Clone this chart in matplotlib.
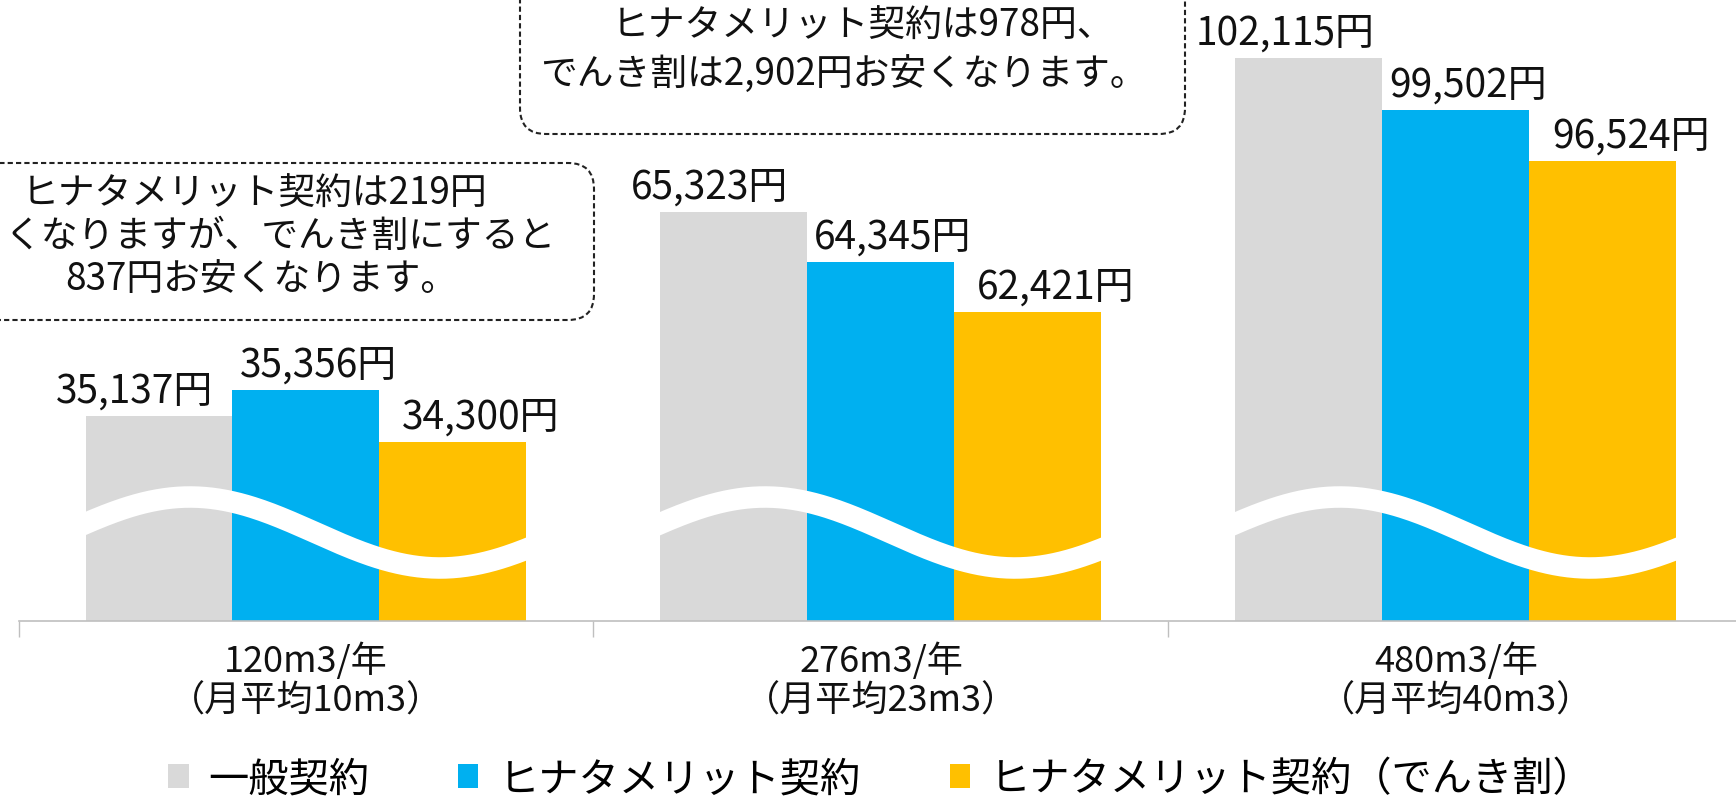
import numpy as np
import matplotlib
matplotlib.use("Agg")
import matplotlib.pyplot as plt
from matplotlib.patches import FancyBboxPatch, Patch

plt.rcParams['font.family'] = ['Noto Sans CJK JP', 'DejaVu Sans']

# categories and series
categories = ['120m3/年\n（月平均10m3）', '276m3/年\n（月平均23m3）', '480m3/年\n（月平均40m3）']
series_names = ['一般契約', 'ヒナタメリット契約', 'ヒナタメリット契約（でんき割）']
colors = ['#D9D9D9', '#00B0F0', '#FFC000']

# yearly cost (yen) shown on labels
general = [35137, 65323, 102115]
merit = [35356, 64345, 99502]
merit_denki = [34300, 62421, 96524]

# drawn bar heights (axis is broken, not proportional to yen)
general_h = [205, 409, 563]
merit_h = [231, 359, 511]
merit_denki_h = [179, 309, 460]

# callout texts
note_left = ['ヒナタメリット契約は219円', 'くなりますが、でんき割にすると', '837円お安くなります。']
note_mid = ['ヒナタメリット契約は978円、', 'でんき割は2,902円お安くなります。']

W, H = 1736, 804
fig = plt.figure(figsize=(W / 100, H / 100), dpi=100)

# main axes: baseline at y=622px, category width 575px
ax = fig.add_axes([18.5 / W, (H - 622) / H, 1725 / W, 622 / H])
ax.set_xlim(-0.5, 2.5)
ax.set_ylim(0, 622)

x = np.arange(len(categories))
bw = 147 / 575
values = [general, merit, merit_denki]
heights = [general_h, merit_h, merit_denki_h]
label_dx = [-24, 12, 28]  # px nudges of the value labels

for i in range(3):
    xs = x + (i - 1) * bw
    ax.bar(xs, heights[i], width=bw, color=colors[i], zorder=2)
    for xi, h, v in zip(xs, heights[i], values[i]):
        ax.annotate(f'{v:,}円', (xi, h), xytext=(label_dx[i], 14),
                    textcoords='offset pixels', ha='center', va='baseline',
                    fontsize=28, color='#111111', zorder=5)

# white wave across each group (broken-axis mark)
dx = np.linspace(-226, 226, 200)
wave = 88.5 - 35.5 * np.sin(2 * np.pi * (dx - 9) / 500)
for xc in x:
    ax.plot(xc + dx / 575, wave, color='white', lw=15.5, solid_capstyle='butt', zorder=3)

for s in ['top', 'right', 'left']:
    ax.spines[s].set_visible(False)
ax.spines['bottom'].set_color('#BFBFBF')
ax.spines['bottom'].set_linewidth(1.2)
ax.set_yticks([])
ax.set_xticks(x)
ax.set_xticklabels(categories, fontsize=26, linespacing=1.1, color='#111111')
ax.set_xticks([-0.5, 0.5, 1.5, 2.5], minor=True)
ax.tick_params(axis='x', which='major', length=0, pad=15)
ax.tick_params(axis='x', which='minor', length=11.5, width=1, color='#BFBFBF')

# legend at the bottom
handles = [Patch(facecolor=c, edgecolor='none') for c in colors]
fig.legend(handles, series_names, loc='center', bbox_to_anchor=(881 / W, 24 / H),
           ncol=3, frameon=False, fontsize=29, handlelength=0.5, handleheight=0.55,
           handletextpad=0.5, columnspacing=2.2, borderpad=0.1)

# overlay in pixel coordinates for the dashed callouts
ov = fig.add_axes([0, 0, 1, 1], zorder=10)
ov.set_xlim(0, W)
ov.set_ylim(H, 0)
ov.axis('off')
ov.patch.set_alpha(0)

box_style = dict(boxstyle='round,pad=0,rounding_size=26', facecolor='white',
                 edgecolor='#222222', lw=1.5, linestyle=(0, (2.5, 1.5)))
ov.add_patch(FancyBboxPatch((-60, 164), 654, 157, **box_style))
ov.add_patch(FancyBboxPatch((520, -60), 665, 195, **box_style))

for (tx, ty), line in zip([(255, 194), (280, 236), (261, 280)], note_left):
    ov.text(tx, ty, line, ha='center', va='center', fontsize=26.5, color='#111111')
for (tx, ty), line in zip([(863, 26), (843, 75)], note_mid):
    ov.text(tx, ty, line, ha='center', va='center', fontsize=26.5, color='#111111')

fig.savefig('out.png', dpi=100)
